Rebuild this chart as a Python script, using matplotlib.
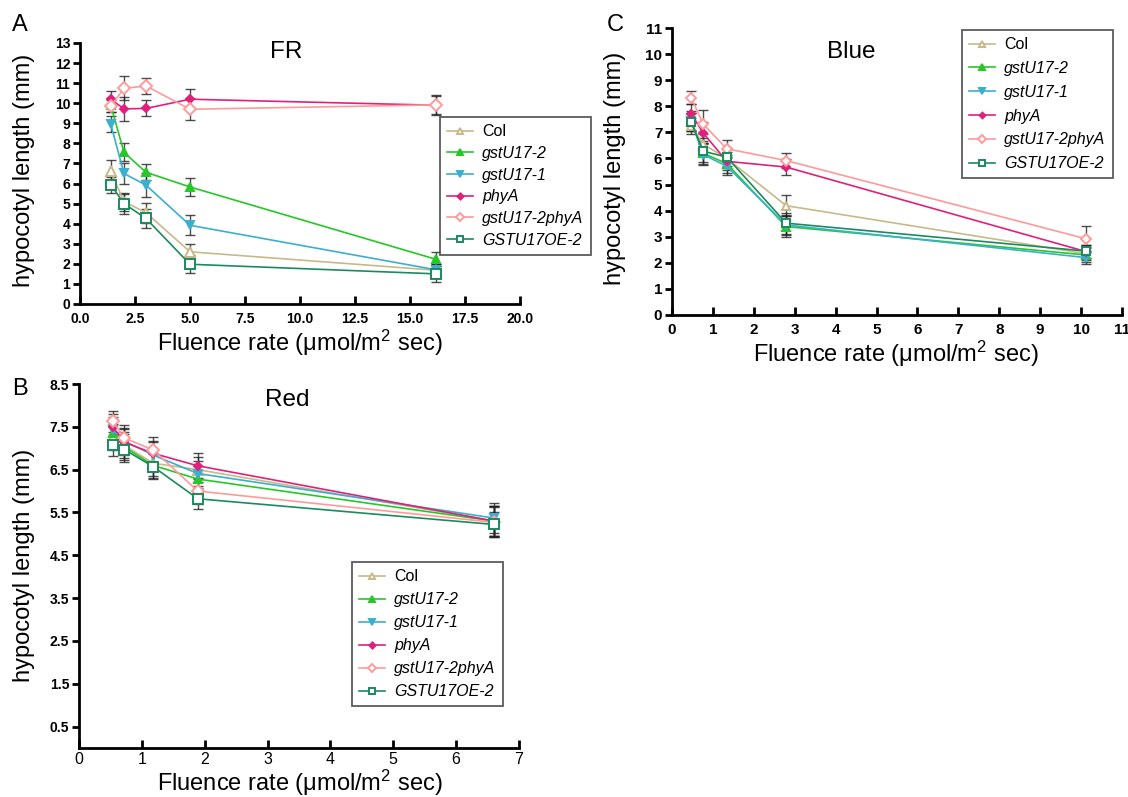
import matplotlib
matplotlib.use("Agg")
import matplotlib.pyplot as plt

plt.rcParams['font.family'] = ['Liberation Sans', 'DejaVu Sans']
plt.rcParams['mathtext.fontset'] = 'custom'
plt.rcParams['mathtext.rm'] = 'Liberation Sans'
plt.rcParams['mathtext.it'] = 'Liberation Sans:italic'

# Lignées et styles
lignees = ["Col", "gstU17-2", "gstU17-1", "phyA", "gstU17-2phyA", "GSTU17OE-2"]
couleurs = ["#c8b98a", "#26c726", "#3aafd0", "#e0207a", "#ff9a9a", "#1b8a5e"]
marqueurs = ["^", "^", "v", "D", "D", "s"]
creux = [True, False, False, False, True, True]
echelle_m = [0.95, 0.8, 0.8, 0.6, 0.85, 0.95]
italique = [False, True, True, True, True, True]

# FR (A)
fr_x = [1.4, 2.0, 3.0, 5.0, 16.2]
fr_y = [[6.6, 5.1, 4.55, 2.6, 1.68],
        [9.9, 7.55, 6.56, 5.83, 2.22],
        [8.95, 6.5, 5.92, 3.92, 1.7],
        [10.2, 9.72, 9.74, 10.2, 9.9],
        [9.87, 10.74, 10.86, 9.7, 9.92],
        [5.95, 5.0, 4.26, 1.98, 1.5]]
fr_err = [[0.55, 0.45, 0.5, 0.4, 0.3],
          [0.35, 0.45, 0.4, 0.45, 0.35],
          [0.4, 0.5, 0.6, 0.5, 0.3],
          [0.4, 0.6, 0.4, 0.5, 0.5],
          [0.3, 0.6, 0.42, 0.55, 0.45],
          [0.4, 0.5, 0.45, 0.45, 0.4]]

# Blue (C)
bl_x = [0.47, 0.76, 1.34, 2.79, 10.12]
bl_y = [[7.25, 6.55, 6.0, 4.19, 2.35],
        [7.4, 6.2, 5.8, 3.39, 2.3],
        [7.45, 6.15, 5.7, 3.45, 2.2],
        [7.72, 6.98, 5.89, 5.67, 2.43],
        [8.33, 7.32, 6.37, 5.92, 2.92],
        [7.4, 6.28, 6.05, 3.52, 2.45]]
bl_err = [[0.3, 0.4, 0.35, 0.4, 0.25],
          [0.35, 0.4, 0.35, 0.4, 0.25],
          [0.35, 0.4, 0.35, 0.4, 0.25],
          [0.35, 0.4, 0.35, 0.3, 0.25],
          [0.25, 0.55, 0.35, 0.3, 0.5],
          [0.35, 0.4, 0.35, 0.4, 0.25]]

# Red (B)
rd_x = [0.54, 0.72, 1.18, 1.89, 6.6]
rd_y = [[7.27, 7.07, 6.65, 6.5, 5.3],
        [7.35, 7.03, 6.6, 6.28, 5.3],
        [7.42, 7.17, 6.84, 6.41, 5.37],
        [7.5, 7.14, 6.88, 6.59, 5.3],
        [7.63, 7.24, 6.96, 6.0, 5.27],
        [7.07, 6.97, 6.57, 5.82, 5.22]]
rd_err = [[0.3, 0.3, 0.3, 0.3, 0.35],
          [0.3, 0.3, 0.3, 0.3, 0.35],
          [0.3, 0.3, 0.3, 0.3, 0.35],
          [0.3, 0.3, 0.3, 0.3, 0.35],
          [0.25, 0.3, 0.3, 0.3, 0.35],
          [0.25, 0.3, 0.3, 0.25, 0.3]]

W, H = 1128, 797
fig = plt.figure(figsize=(W / 100, H / 100), dpi=100)


def rect(x0, y_top, x1, y_bot):
    return [x0 / W, 1 - y_bot / H, (x1 - x0) / W, (y_bot - y_top) / H]


def pos(x, y):
    return x / W, 1 - y / H


def panneau(ax, xs, ys, errs, taille_m):
    for i in range(len(lignees)):
        c = couleurs[i]
        ax.errorbar(xs, ys[i], yerr=errs[i], fmt='none', ecolor='#222222',
                    elinewidth=1.0, capsize=3.5, capthick=1.0, alpha=0.8, zorder=2)
        ax.plot(xs, ys[i], color=c, lw=1.2, marker=marqueurs[i], ms=taille_m * echelle_m[i],
                mfc='white' if creux[i] else c, mec=c, mew=1.4,
                label=lignees[i], zorder=3)
    for s in ['top', 'right']:
        ax.spines[s].set_visible(False)
    for s in ['left', 'bottom']:
        ax.spines[s].set_linewidth(2.0)
    ax.tick_params(axis='y', direction='out', length=5, width=2, pad=2)
    ax.tick_params(axis='x', direction='in', length=6, width=2, pad=6)
    for t in ax.get_yticklabels() + ax.get_xticklabels():
        t.set_fontweight('bold')
        t.set_fontsize(10)


def legende(ax, x0, y0, esp=0.55):
    leg = ax.legend(loc='upper left', bbox_to_anchor=(x0, y0), borderaxespad=0,
                    fontsize=11.5, frameon=True, fancybox=False, labelspacing=esp,
                    handlelength=1.6, handletextpad=0.6, borderpad=0.45, markerscale=0.75)
    leg.get_frame().set_edgecolor('#333333')
    leg.get_frame().set_linewidth(1.3)
    for t, it in zip(leg.get_texts(), italique):
        t.set_fontstyle('italic' if it else 'normal')


xlab = "Fluence rate (\u03bcmol/m$^{2}$ sec)"
ylab = "hypocotyl length (mm)"

# Panneau A
axA = fig.add_axes(rect(80, 43, 520, 304))
axA.set_xlim(0, 20)
axA.set_ylim(0, 13)
axA.set_xticks([0, 2.5, 5, 7.5, 10, 12.5, 15, 17.5, 20])
axA.set_xticklabels(["0.0", "2.5", "5.0", "7.5", "10.0", "12.5", "15.0", "17.5", "20.0"])
axA.set_yticks(range(0, 14))
panneau(axA, fr_x, fr_y, fr_err, 7)
legende(axA, (440 - 80) / 440, (304 - 117) / 261, esp=0.42)

# Panneau C
axC = fig.add_axes(rect(672, 28, 1122, 315))
axC.set_xlim(0, 11)
axC.set_ylim(0, 11)
axC.set_xticks(range(0, 12))
axC.set_yticks(range(0, 12))
panneau(axC, bl_x, bl_y, bl_err, 6.5)
for t in axC.get_yticklabels() + axC.get_xticklabels():
    t.set_fontsize(11)
legende(axC, (962 - 672) / 450, (315 - 30) / 287)

# Panneau B
axB = fig.add_axes(rect(79, 384, 519, 748))
axB.set_xlim(0, 7)
axB.set_ylim(0, 8.5)
axB.set_xticks(range(0, 8))
axB.set_yticks([0.5, 1.5, 2.5, 3.5, 4.5, 5.5, 6.5, 7.5, 8.5])
panneau(axB, rd_x, rd_y, rd_err, 7)
axB.tick_params(axis='x', pad=3)
for t in axB.get_xticklabels():
    t.set_fontweight('normal')
    t.set_fontsize(11.5)
legende(axB, (352 - 79) / 440, (748 - 562) / 364, esp=0.5)

# Titres, étiquettes et lettres
for (x, y), txt in [((286, 52), "FR"), ((851, 52), "Blue"), ((287, 400), "Red")]:
    fig.text(*pos(x, y), txt, fontsize=17.5, ha='center', va='center')
for (x, y) in [(300, 343), (896, 354), (300, 783)]:
    fig.text(*pos(x, y), xlab, fontsize=17, ha='center', va='center')
for (x, y) in [(24, 170), (615, 168), (24, 565)]:
    fig.text(*pos(x, y), ylab, fontsize=17, ha='center', va='center', rotation=90)
for (x, y), txt in [((20, 25), "A"), ((20, 389), "B"), ((615, 25), "C")]:
    fig.text(*pos(x, y), txt, fontsize=17, ha='center', va='center')

fig.savefig("out.png", dpi=100)
